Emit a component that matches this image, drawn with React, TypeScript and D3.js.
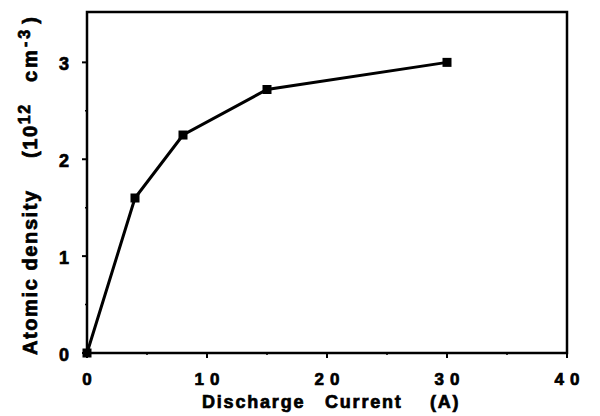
import React from "react";
import * as d3 from "d3";

const currents = [0, 4, 8, 15, 30];
const densities = [0, 1.6, 2.25, 2.72, 3.0];
const xTicks = [0, 10, 20, 30, 40];
const yTicks = [0, 1, 2, 3];
const xMinor = [5, 15, 25, 35];
const yMinor = [0.5, 1.5, 2.5];

export default function App() {
  const W = 600, H = 416;
  const m = { l: 87, r: 33, t: 12, b: 63 };
  const x = d3.scaleLinear().domain([0, 40]).range([m.l, W - m.r]);
  const y = d3.scaleLinear().domain([0, 3.52]).range([H - m.b, m.t]);
  const pts = currents.map((c, i) => [c, densities[i]] as [number, number]);
  const line = d3.line<[number, number]>().x(d => x(d[0])).y(d => y(d[1]));
  const font = "Arial, Liberation Sans, Helvetica, sans-serif";
  const heavy = { fontFamily: font, fontWeight: "bold" as const, stroke: "#000", strokeWidth: 0.7 };
  return (
    <svg width={W} height={H} style={{ position: "absolute", left: 0, top: 0, background: "#fff" }}>
      <rect x={m.l} y={m.t} width={W - m.l - m.r} height={H - m.t - m.b} fill="none" stroke="#000" strokeWidth={2.5} />
      {yTicks.map(t => (
        <g key={"y" + t}>
          <line x1={x(0) - 5} x2={x(0)} y1={y(t)} y2={y(t)} stroke="#000" strokeWidth={2} />
          <text x={69} y={y(t) + 8} textAnchor="end" fontSize={18} {...heavy}>{t}</text>
        </g>
      ))}
      {yMinor.map(t => (
        <line key={"ym" + t} x1={x(0) - 2} x2={x(0)} y1={y(t)} y2={y(t)} stroke="#000" strokeWidth={1.5} />
      ))}
      {xTicks.map(t => (
        <g key={"x" + t}>
          <line x1={x(t)} x2={x(t)} y1={y(0)} y2={y(0) + 5} stroke="#000" strokeWidth={2} />
          <text x={x(t) + (t === 0 ? 0 : 3)} y={385} textAnchor="middle" fontSize={17} letterSpacing={t === 0 ? 0 : 6} {...heavy}>{t}</text>
        </g>
      ))}
      {xMinor.map(t => (
        <line key={"xm" + t} x1={x(t)} x2={x(t)} y1={y(0)} y2={y(0) + 2} stroke="#000" strokeWidth={1.5} />
      ))}
      <path d={line(pts) || ""} fill="none" stroke="#000" strokeWidth={3} />
      {pts.map((p, i) => (
        <rect key={"p" + i} x={x(p[0]) - 4.5} y={y(p[1]) - 4.5} width={9} height={9} fill="#000" />
      ))}
      <text y={408} fontSize={18} letterSpacing={1.8} {...heavy}>
        <tspan x={202}>Discharge</tspan>
        <tspan x={325}>Current</tspan>
        <tspan x={430}>(A)</tspan>
      </text>
      <text transform="translate(37,0) rotate(-90)" fontSize={20} letterSpacing={1.6} {...heavy}>
        <tspan x={-355}>Atomic density</tspan>
        <tspan x={-158}>(10</tspan>
        <tspan dy={-7} fontSize={16}>12</tspan>
        <tspan x={-82} dy={7} letterSpacing={3}>cm</tspan>
        <tspan dy={-7} fontSize={16} letterSpacing={3}>-3</tspan>
        <tspan dy={7} dx={3}>)</tspan>
      </text>
    </svg>
  );
}
